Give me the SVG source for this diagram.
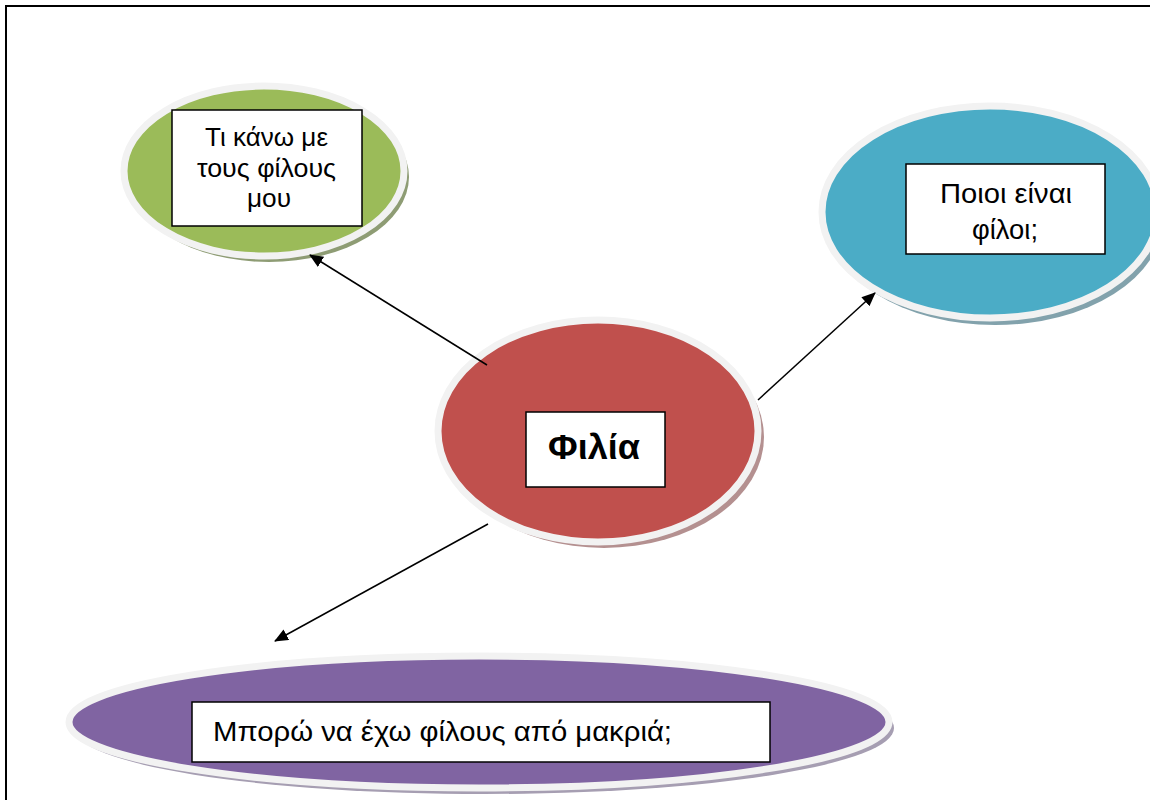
<svg xmlns="http://www.w3.org/2000/svg" width="1150" height="800" viewBox="0 0 1150 800">
<style>
.ring{stroke:#f2f2f2;stroke-width:7}
.box{fill:#fff;stroke:#000;stroke-width:1.5}
.t{font-family:"Liberation Sans",Arial,sans-serif;font-size:26px;fill:#000}
.b{font-size:28px}
.conn line{stroke:#000;stroke-width:1.5}
</style>
<defs>
<marker id="ah" markerWidth="14" markerHeight="12" refX="13" refY="6" orient="auto" markerUnits="userSpaceOnUse">
<path d="M0,0 L14,6 L0,12 Z" fill="#000"/>
</marker>
</defs>
<rect width="1150" height="800" fill="#fff"/>
<path d="M6,800 V6 H1150" fill="none" stroke="#000" stroke-width="2"/>
<g id="node-green">
<ellipse cx="269" cy="177" rx="140" ry="85" fill="#8e9c74"/>
<ellipse cx="264" cy="171" rx="140" ry="85" fill="#9bbb59" class="ring"/>
<rect x="172" y="110" width="190" height="116" class="box"/>
<text class="t" x="205" y="146" textLength="123" lengthAdjust="spacingAndGlyphs">Τι κάνω με</text>
<text class="t" x="197" y="177" textLength="139" lengthAdjust="spacingAndGlyphs">τους φίλους</text>
<text class="t" x="247" y="207" textLength="44" lengthAdjust="spacingAndGlyphs">μου</text>
</g>
<g id="node-blue">
<ellipse cx="995" cy="219" rx="168" ry="106" fill="#82a2ac"/>
<ellipse cx="990" cy="212" rx="168" ry="106" fill="#4bacc6" class="ring"/>
<rect x="906" y="164" width="199" height="90" class="box"/>
<text class="t b" x="940" y="203" textLength="132" lengthAdjust="spacingAndGlyphs">Ποιοι είναι</text>
<text class="t b" x="972" y="239" textLength="66" lengthAdjust="spacingAndGlyphs">φίλοι;</text>
</g>
<g id="node-red">
<ellipse cx="604" cy="437" rx="160" ry="111" fill="#b49090"/>
<ellipse cx="598" cy="431" rx="160" ry="111" fill="#c0504d" class="ring"/>
<rect x="526" y="412" width="139" height="75" class="box"/>
<text class="t" x="548" y="459" textLength="92" lengthAdjust="spacingAndGlyphs" style="font-size:35px;font-weight:bold">Φιλία</text>
</g>
<g id="node-purple">
<ellipse cx="484" cy="728" rx="410" ry="66" fill="#a69eb2"/>
<ellipse cx="479" cy="722" rx="410" ry="66" fill="#8064a2" class="ring"/>
<rect x="192" y="702" width="578" height="60" class="box"/>
<text class="t b" x="213" y="741" textLength="459" lengthAdjust="spacingAndGlyphs">Μπορώ να έχω φίλους από μακριά;</text>
</g>
<g class="conn" id="connectors">
<line x1="487" y1="365" x2="310" y2="255" marker-end="url(#ah)"/>
<line x1="758" y1="400" x2="875" y2="293" marker-end="url(#ah)"/>
<line x1="488" y1="524" x2="275" y2="641" marker-end="url(#ah)"/>
</g>
</svg>
